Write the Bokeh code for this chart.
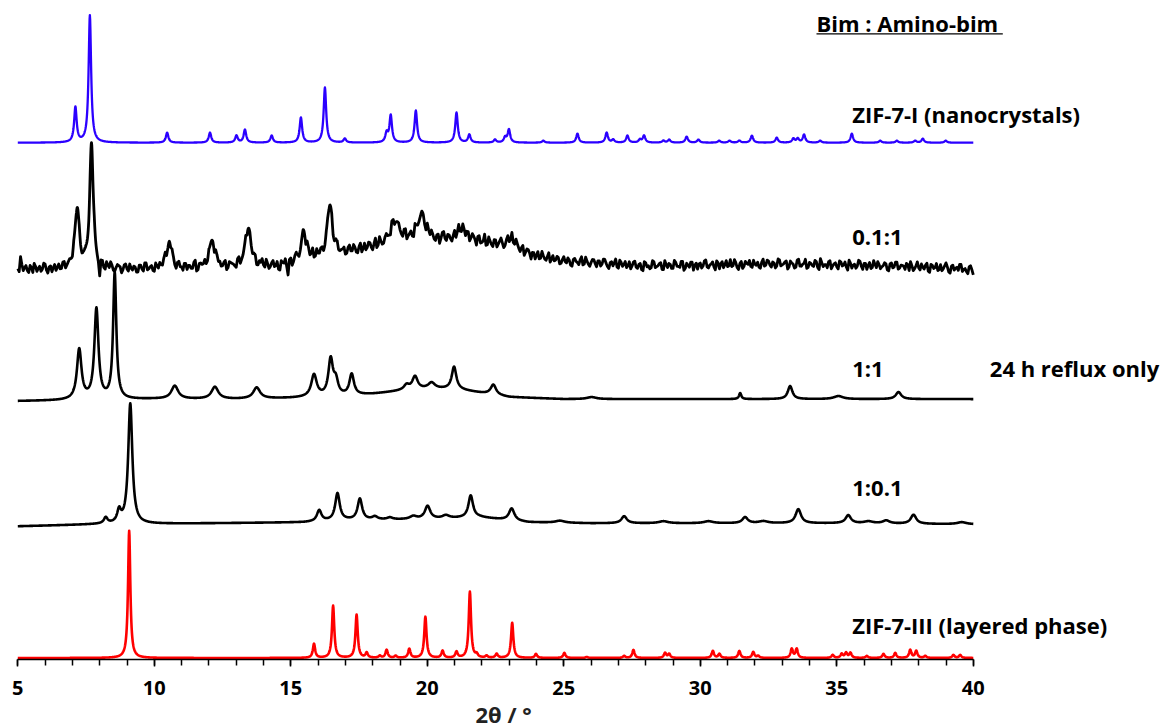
import numpy as np
from bokeh.plotting import figure
from bokeh.models import Range1d, SingleIntervalTicker, Title
from bokeh.embed import file_html
from bokeh.resources import INLINE
from bokeh.core.properties import value

FONT = "Open Sans"

# ---------------- data ----------------
# 2-theta sampling of the patterns (degrees)
two_theta = np.round(np.arange(5.0, 40.0001, 0.01), 2)

# ZIF-7-I (nanocrystals), blue, simulated
zif7i_base_x = [5, 40]
zif7i_base_y = [516, 516]
zif7i_pos = [7.11, 7.64, 10.47, 12.04, 13.01, 13.32, 14.30, 15.37, 16.25, 16.98, 18.51, 18.66,
             19.58, 21.07, 21.54, 22.48, 22.85, 22.99, 24.25, 25.50, 26.57, 26.81, 27.33, 27.79,
             27.94, 28.65, 28.86, 29.50, 29.93, 30.69, 31.07, 31.43, 31.89, 32.80, 33.41, 33.57,
             33.80, 34.39, 35.55, 36.59, 37.20, 37.87, 38.15, 38.99]
zif7i_hgt = [35, 127, 10, 10, 7, 13, 7, 25, 55, 4, 9, 27,
             32, 30, 8, 3, 5, 13, 2, 9, 10, 3, 7, 3,
             7, 2, 3, 6, 3, 2, 2, 2, 7, 5, 4, 4,
             8, 2, 9, 2, 2, 2, 4, 2]
zif7i_hw = 0.055

# 0.1:1 (noisy measured pattern)
s01_base_x = [5, 10, 13, 14.5, 15.5, 16.5, 17.2, 18, 19.3, 20.5, 21.9, 23.1, 23.8, 25, 28, 33, 37, 40]
s01_base_y = [390, 390, 392, 393, 398, 403, 407, 412, 417, 418, 417, 412, 404, 398, 393, 395, 393, 390]
s01_pos = [7.17, 7.70, 10.54, 12.12, 13.44, 15.48, 16.43, 18.81, 19.79, 21.26, 23.10]
s01_hgt = [58, 123, 26, 28, 40, 28, 50, 22, 25, 12, 8]
s01_hw = [0.10, 0.08, 0.12, 0.12, 0.12, 0.12, 0.12, 0.20, 0.20, 0.25, 0.20]
# detector noise of the 0.1:1 pattern: values at 5.0, 5.1, ... 40.0
s01_noise = [
    0, 12, -2, 3, -4, 1, 5, -3, 2, -1, 4, -5, 2, 0, -3, 3, -2, 4, -1, 2, -4, 1, 3, -2, 0,
    2, -3, 1, 4, -2, -16, 3, -4, 1, 5, -3, 0, 2, -5, 3, -1, 4, -2, 1, -4, 3, -3, 5, -1, 2,
    -4, 1, 3, -2, 5, -3, 0, 2, -5, 4, -1, 3, -3, 1, -2, 6, -4, 2, 0, -3, 4, -1, -5, 3, 1,
    -2, 4, -3, 2, 0, -4, 5, -1, 3, -5, 2, -2, 4, -3, 1, -1, 5, -4, 2, -2, 3, -6, 1, 4, -13,
    3, -2, 5, -4, 2, -1, 4, -3, 6, -2, 0, 3, -5, 2, -1, 4, -3, 5, -2, 1, -4, 3, -1, 5, -3,
    2, -4, 4, -1, 3, -5, 6, -2, 1, -3, 4, -2, 5, -4, 2, 0, -3, 6, -1, 3, -5, 2, -2, 4, -3,
    5, -2, 1, -4, 3, -1, 6, -3, 2, -5, 4, 0, -2, 5, -4, 3, -1, 2, -6, 4, -2, 7, -3, 1, -4,
    3, -1, 5, -5, 2, -2, 6, -3, 1, -4, 4, -1, 3, -5, 2, 0, -3, 5, -2, 1, -4, 3, -1, 2, -3,
    4, -2, 1, -5, 3, -1, 2, -3, 5, -2, 0, 3, -4, 2, -1, 4, -3, 1, -2, 5, -4, 2, 0, -3, 3,
    -1, 4, -3, 2, -5, 3, 0, -2, 4, -1, 2, -4, 5, -2, 1, -3, 3, -1, 4, -5, 2, -2, 3, 0, -4,
    2, -1, 5, -3, 1, -2, 4, -4, 3, 0, -2, 5, -1, 2, -5, 3, -2, 1, 4, -3, 0, 2, -4, 5, -1,
    3, -3, 1, -2, 4, -1, 2, -5, 3, 0, -3, 5, -2, 1, -4, 2, -1, 4, -3, 6, -2, 0, 3, -4, 1,
    -2, 4, -1, 3, -5, 2, 0, -3, 5, -1, 2, -4, 3, -2, 1, 4, -3, 0, 2, -5, 3, -1, 4, -2, 1,
    -3, 2, 5, -4, 1, -1, 3, -2, 4, -5, 2, 0, -3, 3, -1, 5, -4, 2, -2, 1, 4, -3, 0, -5, 3,
    -6,
]
# noise values at the mid points 5.05, 5.15, ... 39.95
s01_noise_mid = [
    -3, 4, 1, -2, 3, -4, 2, 0, -3, 5, -2, 1, -4, 3, 0, -2, 4, -3, 1, -1, 3, -2, 5, -4, 2,
    -1, 3, -2, 0, -5, 2, -3, 4, -1, 2, -4, 3, 1, -2, 4, -3, 0, 2, -4, 3, -1, 5, -2, 1, -3,
    4, -2, 0, 3, -4, 1, 5, -3, 2, -1, -4, 3, 1, -2, 4, -5, 2, 0, 3, -3, 1, -2, 4, -1, -3,
    2, -5, 3, 1, -2, 4, -3, 0, 5, -2, -1, 3, -4, 2, 5, -3, 1, -2, 4, -1, -5, 3, 0, -4, 2,
    -5, 3, 1, -2, 4, -6, 2, 0, -3, 5, -1, 2, -4, 3, 1, -5, 4, -2, 0, 3, -3, 5, -1, 2, -4,
    5, -1, -3, 4, -2, 1, -4, 6, -3, 2, 0, -5, 3, -1, 4, -2, 5, -4, 1, -3, 6, -2, 0, 3, -5,
    1, 4, -3, 2, -6, 5, -1, 3, -2, 0, -4, 6, -3, 1, 2, -5, 4, -1, 3, -3, 0, -4, 5, -2, 3,
    -4, 2, 0, -3, 5, -1, -3, 4, -2, 1, -5, 3, 0, 2, -4, 4, -2, 1, -3, 5, -1, -2, 3, -4, 1,
    -1, 3, -4, 2, 0, -3, 5, -2, 1, -4, 3, -1, 2, -3, 4, 0, -5, 2, 1, -3, 4, -2, 3, -1, -4,
    3, -2, 1, -4, 4, -1, -3, 5, -2, 0, 3, -4, 1, 2, -3, 5, -1, -2, 4, -3, 0, 3, -5, 2, 1,
    -3, 4, -2, 0, 3, -5, 2, 1, -3, 4, -1, -2, 5, -3, 1, -4, 3, 0, -2, 4, -1, -3, 2, -2, 4,
    -1, 2, -4, 5, -2, 0, 3, -3, 1, -4, 4, -2, 0, 5, -3, 1, -2, 3, -5, 2, 0, -3, 4, -1, 2,
    -4, 3, 0, -2, 5, -3, 1, -1, 4, -4, 2, 0, -3, 5, -2, 1, -1, 3, -4, 2, -2, 4, -3, 1, 0,
    3, -4, 1, -2, 5, -3, 0, 2, -4, 3, -1, 4, -2, -3, 2, 1, -5, 3, 0, -2, 4, -1, -3, 2, -1,
]

# 1:1 (24 h reflux only)
s11_base_x = [5, 8, 10, 13, 15, 16, 17, 18, 19, 20, 21, 22, 23, 25, 28, 32, 36, 40]
s11_base_y = [258, 259, 260, 260, 261, 262, 263, 265, 268, 270, 270, 266, 262, 260, 260, 260, 260, 260]
s11_pos = [7.25, 7.88, 8.55, 10.75, 12.22, 13.75, 15.85, 16.46, 16.65, 17.23, 19.24, 19.55,
           20.16, 20.98, 22.42, 26.02, 31.46, 33.29, 35.06, 37.26]
s11_hgt = [50, 90, 126, 13, 12, 11, 22, 36, 14, 21, 5, 13,
           6, 22, 10, 2, 6, 13, 3, 7]
s11_hw = [0.10, 0.09, 0.07, 0.15, 0.15, 0.15, 0.12, 0.10, 0.10, 0.10, 0.12, 0.12,
          0.15, 0.10, 0.12, 0.20, 0.05, 0.10, 0.20, 0.12]

# 1:0.1
s101_base_x = [5, 8, 12, 15.5, 17, 20, 21.9, 23.7, 26, 30, 35, 40]
s101_base_y = [133, 135, 136, 137, 139, 140, 142, 137, 136, 136, 136, 135]
s101_pos = [8.22, 8.71, 9.12, 16.04, 16.71, 17.53, 18.08, 18.63, 19.49, 20.01, 20.68, 21.59,
            23.09, 24.86, 27.21, 28.65, 30.30, 31.64, 32.31, 33.59, 35.42, 36.16, 36.81, 37.81, 39.58]
s101_hgt = [6, 12, 120, 11, 27, 21, 3, 2, 3, 13, 3, 22,
            12, 2, 7, 2, 2, 6, 2, 14, 8, 2, 3, 9, 2]
s101_hw = [0.08, 0.08, 0.09, 0.10, 0.10, 0.10, 0.12, 0.12, 0.15, 0.12, 0.15, 0.10,
           0.12, 0.20, 0.12, 0.20, 0.20, 0.12, 0.20, 0.12, 0.12, 0.20, 0.15, 0.12, 0.20]

# ZIF-7-III (layered phase), red, simulated
zif7iii_base_x = [5, 40]
zif7iii_base_y = [1.5, 1.5]
zif7iii_pos = [9.08, 15.85, 16.55, 17.41, 17.78, 18.26, 18.51, 18.84, 19.34, 19.93, 20.56, 21.07,
               21.56, 21.81, 22.17, 22.54, 23.11, 23.98, 25.02, 25.84, 27.21, 27.55, 28.71, 28.86,
               30.46, 30.70, 31.43, 31.94, 32.12, 33.35, 33.53, 34.85, 35.18, 35.34, 35.50, 36.10,
               36.71, 37.14, 37.69, 37.91, 38.24, 39.27, 39.52]
zif7iii_hgt = [127, 14, 52, 43, 5, 2, 8, 2, 9, 41, 7, 6,
               66, 3, 2, 4, 35, 4, 5, 1, 2, 8, 5, 4,
               7, 4, 7, 6, 2, 9, 9, 3, 4, 5, 5, 2,
               4, 5, 8, 7, 2, 3, 3]
zif7iii_hw = 0.05

# texts
tick_interval = 5
x_label = "2θ / °"
header = "Bim : Amino-bim"
trace_labels = ["ZIF-7-I (nanocrystals)", "0.1:1", "1:1", "1:0.1", "ZIF-7-III (layered phase)"]
side_note = "24 h reflux only"


def pattern(base_x, base_y, pos, hgt, hw, noise_sets=()):
    y = np.interp(two_theta, base_x, base_y)
    hws = hw if isinstance(hw, (list, tuple)) else [hw] * len(pos)
    for p0, h, w in zip(pos, hgt, hws):
        y = y + h / (1.0 + ((two_theta - p0) / w) ** 2)
    if noise_sets:
        nx = np.concatenate([np.linspace(a, b, len(v)) for v, a, b in noise_sets])
        nv = np.concatenate([np.asarray(v, float) for v, a, b in noise_sets])
        order = np.argsort(nx)
        y = y + np.interp(two_theta, nx[order], nv[order])
    return y


# ---------------- figure ----------------
PX = 27.30                # pixels per degree
X0 = 5 - 17.3 / PX        # left edge of the canvas in degrees
X1 = X0 + 1162 / PX

p = figure(width=1162, height=727, output_backend="svg", toolbar_location=None,
           x_range=Range1d(X0, X1), y_range=Range1d(0, 658),
           y_axis_location=None, min_border=0, min_border_left=0, min_border_right=0,
           min_border_top=0, min_border_bottom=0)
p.outline_line_color = None
p.grid.visible = False
p.background_fill_color = "white"
p.border_fill_color = "white"

xa = p.xaxis[0]
xa.bounds = (5, 40)
xa.ticker = SingleIntervalTicker(interval=tick_interval, num_minor_ticks=5)
xa.axis_line_color = "black"
xa.axis_line_width = 1.5
xa.major_tick_line_color = "black"
xa.major_tick_line_width = 1.5
xa.minor_tick_line_color = "black"
xa.minor_tick_line_width = 1.5
xa.major_tick_in = 0
xa.major_tick_out = 7
xa.minor_tick_in = 0
xa.minor_tick_out = 6
xa.major_label_text_font = FONT
xa.major_label_text_font_style = "bold"
xa.major_label_text_font_size = "20px"
xa.major_label_text_color = "black"
xa.major_label_standoff = 14

# axis title, left-aligned under the axis (centred on the 5..40 span)
ttl = Title(text=x_label, align="left", offset=475, standoff=-2,
            text_font=FONT, text_font_style="bold", text_font_size="22px",
            text_color="#222222")
p.add_layout(ttl, "below")

series = [
    (pattern(zif7i_base_x, zif7i_base_y, zif7i_pos, zif7i_hgt, zif7i_hw), "#2B00FF", 2.3),
    (pattern(s01_base_x, s01_base_y, s01_pos, s01_hgt, s01_hw,
             [(s01_noise, 5.0, 40.0), (s01_noise_mid, 5.05, 39.95)]), "black", 2.8),
    (pattern(s11_base_x, s11_base_y, s11_pos, s11_hgt, s11_hw), "black", 2.6),
    (pattern(s101_base_x, s101_base_y, s101_pos, s101_hgt, s101_hw), "black", 2.6),
    (pattern(zif7iii_base_x, zif7iii_base_y, zif7iii_pos, zif7iii_hgt, zif7iii_hw), "#FF0000", 2.6),
]
for y, col, lw in series:
    p.line(two_theta, y, line_color=col, line_width=lw, line_join="round")

# labels (vertical centres, in plot units = pixels above the axis line)
lab_x = X0 + 851.7 / PX
lab_y = [545, 422.5, 291.3, 172, 34.5]
txt = dict(text_font=value(FONT), text_font_style="bold", text_font_size="22px",
           text_baseline="middle", text_align="left", text_color="black")
p.text(x=[lab_x] * len(trace_labels), y=lab_y, text=trace_labels, **txt)
p.text(x=[X0 + 989.3 / PX], y=[291.3], text=[side_note], **txt)
p.text(x=[X0 + 816.0 / PX], y=[635.5], text=[header], **txt)
p.line(x=[X0 + 816.0 / PX, X0 + 1002.3 / PX], y=[624.7, 624.7], line_color="black", line_width=1.4)

open("out.html", "w").write(file_html(p, INLINE))
